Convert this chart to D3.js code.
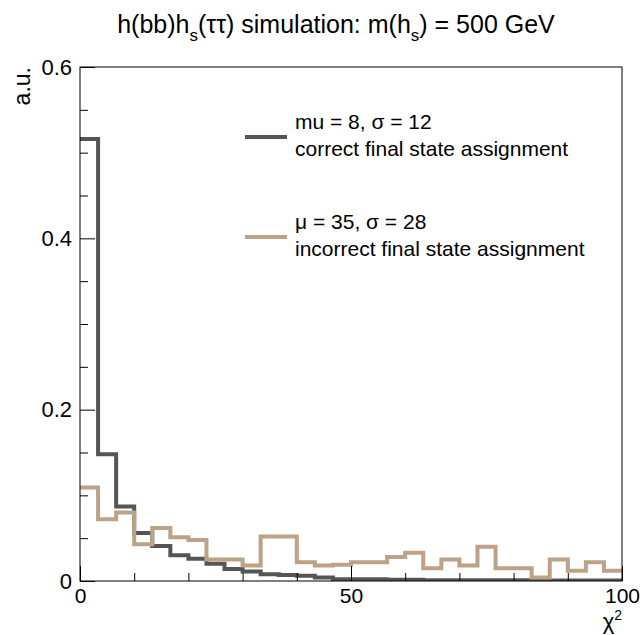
<!DOCTYPE html>
<html>
<head>
<meta charset="utf-8">
<script src="https://cdn.jsdelivr.net/npm/d3@7"></script>
<style>
  body { margin: 0; background: #fff; }
  text { font-family: "Liberation Sans", Arial, Helvetica, sans-serif; fill: #000; }
</style>
</head>
<body>
<svg></svg>
<script>
const width = 640;
const height = 635;

// histogram binning: 30 bins on [0, 100]
const xMin = 0, xMax = 100, nBins = 30;

// bin contents
const correct = [0.516, 0.148, 0.087, 0.056, 0.041, 0.030, 0.026, 0.020, 0.014, 0.011,
  0.008, 0.007, 0.006, 0.004, 0.002, 0.002, 0.002, 0.0015, 0.0015, 0.001,
  0.001, 0.001, 0.001, 0.001, 0.0008, 0.0008, 0.0005, 0.0005, 0.0005, 0.0005];
const incorrect = [0.109, 0.072, 0.080, 0.043, 0.062, 0.051, 0.048, 0.025, 0.025, 0.018,
  0.052, 0.052, 0.022, 0.018, 0.019, 0.022, 0.022, 0.028, 0.033, 0.015,
  0.025, 0.018, 0.040, 0.015, 0.015, 0.004, 0.025, 0.012, 0.022, 0.012];

const xTicks = [0, 50, 100];
const xMinorTicks = [10, 20, 30, 40, 60, 70, 80, 90];
const yTicks = [0, 0.2, 0.4, 0.6];
const yMinorTicks = [0.05, 0.1, 0.15, 0.25, 0.3, 0.35, 0.45, 0.5, 0.55];

const legendLabels = [
  ["mu = 8, \u03c3 = 12", "correct final state assignment"],
  ["\u03bc = 35, \u03c3 = 28", "incorrect final state assignment"]
];
const colors = ["#555555", "#bca286"];

const margin = {left: 80, right: 18, top: 67, bottom: 54};
const plotW = width - margin.left - margin.right;
const plotH = height - margin.top - margin.bottom;

const svg = d3.select('svg')
  .attr('width', width)
  .attr('height', height);

const x = d3.scaleLinear().domain([xMin, xMax]).range([margin.left, margin.left + plotW]);
const y = d3.scaleLinear().domain([0, 0.6]).range([margin.top + plotH, margin.top]);

svg.append("clipPath").attr("id", "clip")
  .append("rect")
  .attr("x", margin.left).attr("y", margin.top)
  .attr("width", plotW).attr("height", plotH);

// step outline of a histogram
function stepPoints(values) {
  const bw = (xMax - xMin) / nBins;
  let pts = [];
  values.forEach(function(v, i) {
    pts.push([x(xMin + i * bw), y(v)]);
    pts.push([x(xMin + (i + 1) * bw), y(v)]);
  });
  return pts;
}

const line = d3.line();

[correct, incorrect].forEach(function(values, i) {
  svg.append("path")
    .attr("clip-path", "url(#clip)")
    .attr("d", line(stepPoints(values)))
    .attr("fill", "none")
    .attr("stroke", colors[i])
    .attr("stroke-width", 4)
    .attr("stroke-linejoin", "miter");
});

// frame
svg.append("rect")
  .attr("x", margin.left).attr("y", margin.top)
  .attr("width", plotW).attr("height", plotH)
  .attr("fill", "none")
  .attr("stroke", "#000")
  .attr("stroke-width", 1);

// axes, ticks point inside like ROOT
const xAxis = svg.append("g")
  .attr("transform", "translate(0," + (margin.top + plotH) + ")");
xAxis.call(d3.axisBottom(x).tickValues(xMinorTicks).tickSize(-8).tickFormat(""));
xAxis.append("g").call(d3.axisBottom(x).tickValues(xTicks).tickSize(-15).tickFormat(d3.format("d")));
xAxis.selectAll(".domain").remove();
xAxis.selectAll("line").attr("stroke", "#000");
xAxis.selectAll("text")
  .attr("y", 7)
  .style("font-size", "21px")
  .style("font-family", "'Liberation Sans', Arial, sans-serif")
  .attr("fill", "#000");

const yAxis = svg.append("g")
  .attr("transform", "translate(" + margin.left + ",0)");
yAxis.call(d3.axisLeft(y).tickValues(yMinorTicks).tickSize(-8).tickFormat(""));
yAxis.append("g").call(d3.axisLeft(y).tickValues(yTicks).tickSize(-15).tickFormat(function(d) { return d === 0 ? "0" : d3.format(".1f")(d); }));
yAxis.selectAll(".domain").remove();
yAxis.selectAll("line").attr("stroke", "#000");
yAxis.selectAll("text")
  .attr("x", -8)
  .style("font-size", "22px")
  .style("font-family", "'Liberation Sans', Arial, sans-serif")
  .attr("fill", "#000");

// axis titles
const xt = svg.append("text")
  .attr("x", margin.left + plotW)
  .attr("y", 629)
  .attr("text-anchor", "end")
  .style("font-size", "22px");
xt.append("tspan").text("\u03c7");
xt.append("tspan").attr("dy", -9).style("font-size", "14px").text("2");

svg.append("text")
  .attr("transform", "translate(30," + margin.top + ") rotate(-90)")
  .attr("text-anchor", "end")
  .style("font-size", "23px")
  .text("a.u.");

// title with subscripts
const title = svg.append("text")
  .attr("x", 336)
  .attr("y", 33)
  .attr("text-anchor", "middle")
  .style("font-size", "25px");
title.append("tspan").text("h(bb)h");
title.append("tspan").attr("dy", 8).style("font-size", "17px").text("s");
title.append("tspan").attr("dy", -8).text("(\u03c4\u03c4) simulation: m(h");
title.append("tspan").attr("dy", 8).style("font-size", "17px").text("s");
title.append("tspan").attr("dy", -8).text(") = 500 GeV");

// legend
const legendY = [137, 237];
legendLabels.forEach(function(lab, i) {
  const g = svg.append("g");
  g.append("line")
    .attr("x1", 245).attr("x2", 287)
    .attr("y1", legendY[i]).attr("y2", legendY[i])
    .attr("stroke", colors[i])
    .attr("stroke-width", 4);
  g.append("text")
    .attr("x", 295).attr("y", legendY[i] - 8)
    .style("font-size", "21px")
    .text(lab[0]);
  g.append("text")
    .attr("x", 295).attr("y", legendY[i] + 19)
    .style("font-size", "21px")
    .text(lab[1]);
});
</script>
</body>
</html>
